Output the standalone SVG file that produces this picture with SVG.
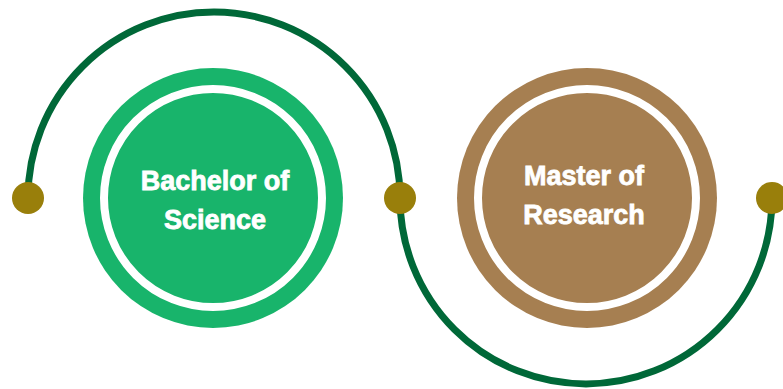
<svg xmlns="http://www.w3.org/2000/svg" width="783" height="389" viewBox="0 0 783 389">
  <defs>
    <style>
      .arc { fill: none; stroke: #006838; stroke-width: 7; }
      .dot { fill: #997F0B; }
      .ring { fill: none; stroke: #ffffff; stroke-width: 8; }
      .label { font-family: "Liberation Sans", Arial, sans-serif; font-weight: bold; font-size: 27px; fill: #ffffff; stroke: #ffffff; stroke-width: 0.8; text-anchor: middle; }
    </style>
  </defs>
  <rect width="783" height="389" fill="#ffffff"/>
  <g id="connectors">
    <path class="arc" d="M 28 198 A 186 186 0 0 1 400 198"/>
    <path class="arc" d="M 400 198 A 186 186 0 0 0 772 198"/>
  </g>
  <g id="bachelor">
    <circle cx="213" cy="198" r="130" fill="#18B46B"/>
    <circle class="ring" cx="213" cy="198" r="109"/>
    <text class="label" x="215" y="190">Bachelor of</text>
    <text class="label" x="215" y="229">Science</text>
  </g>
  <g id="master">
    <circle cx="587" cy="198" r="130" fill="#A67F51"/>
    <circle class="ring" cx="587" cy="198" r="109"/>
    <text class="label" x="584" y="185">Master of</text>
    <text class="label" x="584" y="224">Research</text>
  </g>
  <g id="dot-left"><circle class="dot" cx="28" cy="198" r="16"/></g>
  <g id="dot-middle"><circle class="dot" cx="400" cy="198" r="16"/></g>
  <g id="dot-right"><circle class="dot" cx="772" cy="198" r="16"/></g>
</svg>
